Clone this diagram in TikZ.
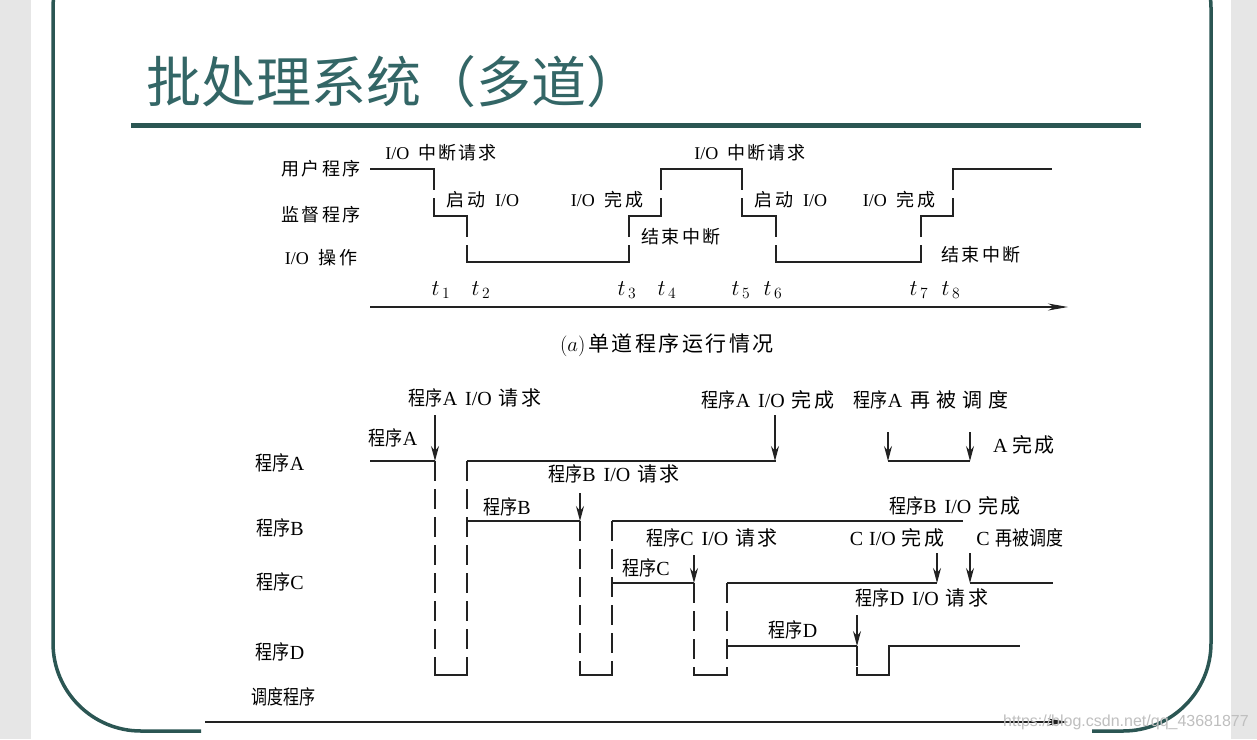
\documentclass[tikz,border=0pt]{standalone}
\usepackage{graphicx}
\usepackage{fontspec}
\setmainfont{Liberation Serif}
\newfontfamily\zh{Noto Sans CJK SC}
\newfontfamily\zhsp[LetterSpace=12]{Noto Sans CJK SC}
\newfontfamily\zhwide[LetterSpace=30]{Noto Sans CJK SC}
\newfontfamily\wmfont{Liberation Sans}
\usetikzlibrary{arrows.meta}
\definecolor{frameteal}{HTML}{2B5653}
\definecolor{titleteal}{HTML}{336666}
\definecolor{sidegray}{HTML}{E6E6E6}
\definecolor{inkline}{HTML}{222222}
\newcommand\sizeA{\fontsize{18}{20}\selectfont}
\newcommand\sizeB{\fontsize{20}{22}\selectfont}
\newcommand\zs[1]{{\zhsp #1}}
\newcommand\cx{\scalebox{0.85}[1]{\zh 程序}}
\newcommand\tm[1]{\scalebox{1.3}{$t_{\,#1}$}}
\begin{document}
\begin{tikzpicture}[x=1pt,y=-1pt,
  lblA/.style={inner sep=0pt, font=\sizeA, text=black},
  lblB/.style={inner sep=0pt, font=\sizeB, text=black},
  wave/.style={line width=1.2pt, draw=inkline},
  dsh/.style={line width=1.2pt, draw=inkline, dash pattern=on 20pt off 8pt},
  req/.style={line width=1.2pt, draw=inkline, -{Stealth[length=15pt,width=8pt,inset=5pt]}},
  timeaxis/.style={line width=1.2pt, draw=inkline, -{Stealth[length=20pt,width=7pt,inset=6pt]}},
]
\useasboundingbox (0,0) rectangle (1257,739);
\clip (0,0) rectangle (1257,739);
\fill[white] (0,0) rectangle (1257,739);
\fill[sidegray] (0,0) rectangle (31,739);
\fill[sidegray] (1231,0) rectangle (1257,739);
% slide frame
\draw[frameteal, line width=3.5pt, rounded corners=88pt] (201,731) -- (53,731) -- (53,-80) -- (1211,-80) -- (1211,731) -- (1092,731);
% title
\node[text=titleteal, inner sep=0pt, font=\zh\fontsize{55}{58}\selectfont] (title) at (394,82) {批处理系统（多道）};
\draw[frameteal, line width=5pt] (131,125) -- (1141,125);

% ---------------- (a) ----------------
\node[lblA] (userA) at (321,169) {\zs{用户程序}};
\node[lblA] (supA) at (321,215) {\zs{监督程序}};
\node[lblA] (ioA) at (321,258) {I/O\hspace{10pt}\zs{操作}};
\node[lblA] (irq1) at (441,153) {I/O\hspace{9pt}\zs{中断请求}};
\node[lblA] (irq2) at (750,153) {I/O\hspace{9pt}\zs{中断请求}};
\node[lblA] (start1) at (483,200) {\zs{启动}\hspace{10pt}I/O};
\node[lblA] (start2) at (791,200) {\zs{启动}\hspace{10pt}I/O};
\node[lblA] (done1) at (607,200) {I/O\hspace{10pt}\zs{完成}};
\node[lblA] (done2) at (899,200) {I/O\hspace{10pt}\zs{完成}};
\node[lblA] (end1) at (681,237) {\zs{结束中断}};
\node[lblA] (end2) at (981,255) {\zs{结束中断}};
\node[lblA] (t1) at (441,290) {\tm{1}};
\node[lblA] (t2) at (481,290) {\tm{2}};
\node[lblA] (t3) at (627,290) {\tm{3}};
\node[lblA] (t4) at (667,290) {\tm{4}};
\node[lblA] (t5) at (741,290) {\tm{5}};
\node[lblA] (t6) at (773,290) {\tm{6}};
\node[lblA] (t7) at (919,290) {\tm{7}};
\node[lblA] (t8) at (951,290) {\tm{8}};
\node[inner sep=0pt, font=\fontsize{21}{23}\selectfont] (capA) at (667,345) {$(a)$\hspace{3pt}\zs{单道程序运行情况}};

\draw[wave] (370,169) -- (434,169) -- (434,190);
\draw[wave] (434,198) -- (434,216) -- (467,216) -- (467,237);
\draw[wave] (467,245) -- (467,262) -- (629,262) -- (629,245);
\draw[wave] (629,237) -- (629,216) -- (661,216) -- (661,198);
\draw[wave] (661,190) -- (661,169) -- (742,169) -- (742,190);
\draw[wave] (742,198) -- (742,216) -- (776,216) -- (776,237);
\draw[wave] (776,245) -- (776,262) -- (921,262) -- (921,245);
\draw[wave] (921,237) -- (921,216) -- (953,216) -- (953,198);
\draw[wave] (953,190) -- (953,169) -- (1052,169);

\coordinate (axAs) at (370,307);
\coordinate (axAe) at (1068,307);
\draw[timeaxis] (axAs) -- (axAe);

% ---------------- (b) ----------------
\node[lblB] (rowA) at (280,463) {\cx A};
\node[lblB] (rowB) at (280,528) {\cx B};
\node[lblB] (rowC) at (280,582) {\cx C};
\node[lblB] (rowD) at (280,652) {\cx D};
\node[lblB] (rowS) at (283,697) {\scalebox{0.8}[1]{\zh 调度程序}};

\node[lblB] (reqA) at (475,398) {\cx A\hspace{8pt}I/O\hspace{7pt}\zs{请求}};
\node[lblB] (progA) at (393,438) {\cx A};
\node[lblB] (doneA) at (768,400) {\cx A\hspace{8pt}I/O\hspace{7pt}\zs{完成}};
\node[lblB] (reschA) at (931,400) {\cx A\hspace{8pt}{\zhwide 再被调度}};
\node[lblB] (finA) at (1024,445) {A\hspace{5pt}\zs{完成}};
\node[lblB] (reqB) at (614,474) {\cx B\hspace{8pt}I/O\hspace{7pt}\zs{请求}};
\node[lblB] (progB) at (507,507) {\cx B};
\node[lblB] (doneB) at (955,506) {\cx B\hspace{8pt}I/O\hspace{7pt}\zs{完成}};
\node[lblB] (reqC) at (712,538) {\cx C\hspace{8pt}I/O\hspace{7pt}\zs{请求}};
\node[lblB] (progC) at (646,568) {\cx C};
\node[lblB] (doneC) at (897,538) {C\hspace{6pt}I/O\hspace{6pt}\zs{完成}};
\node[lblB] (reschC) at (1020,538) {C\hspace{6pt}\scalebox{0.85}[1]{\zh 再被调度}};
\node[lblB] (reqD) at (922,598) {\cx D\hspace{8pt}I/O\hspace{7pt}\zs{请求}};
\node[lblB] (progD) at (793,630) {\cx D};

% program A
\draw[wave] (370,461) -- (435,461);
\draw[dsh] (435,461) -- (435,667);
\draw[wave] (435,667) -- (435,675) -- (467,675) -- (467,667);
\draw[dsh] (467,461) -- (467,667);
\draw[wave] (467,461) -- (776,461);
\draw[wave] (888,461) -- (970,461);
% program B
\draw[wave] (467,521) -- (580,521);
\draw[dsh] (580,521) -- (580,667);
\draw[wave] (580,667) -- (580,675) -- (612,675) -- (612,667);
\draw[dsh] (612,521) -- (612,667);
\draw[wave] (612,521) -- (963,521);
% program C
\draw[wave] (612,583) -- (694,583);
\draw[dsh] (694,583) -- (694,667);
\draw[wave] (694,667) -- (694,675) -- (727,675) -- (727,667);
\draw[dsh] (727,583) -- (727,667);
\draw[wave] (727,583) -- (937,583);
\draw[wave] (970,583) -- (1053,583);
% program D
\draw[wave] (727,646) -- (857,646);
\draw[dsh] (857,646) -- (857,667);
\draw[wave] (857,667) -- (857,675) -- (889,675) -- (889,646) -- (1020,646);

% event arrows
\coordinate (aqs) at (435,415); \coordinate (aqe) at (435,461);
\coordinate (bqs) at (580,493); \coordinate (bqe) at (580,521);
\coordinate (cqs) at (694,555); \coordinate (cqe) at (694,583);
\coordinate (ads) at (775,415); \coordinate (ade) at (775,461);
\coordinate (ars) at (888,432); \coordinate (are) at (888,461);
\coordinate (afs) at (970,432); \coordinate (afe) at (970,461);
\coordinate (cds) at (937,553); \coordinate (cde) at (937,583);
\coordinate (crs) at (970,553); \coordinate (cre) at (970,583);
\coordinate (dqs) at (857,615); \coordinate (dqe) at (857,646);
\draw[req] (aqs) -- (aqe);
\draw[req] (bqs) -- (bqe);
\draw[req] (cqs) -- (cqe);
\draw[req] (ads) -- (ade);
\draw[req] (ars) -- (are);
\draw[req] (afs) -- (afe);
\draw[req] (cds) -- (cde);
\draw[req] (crs) -- (cre);
\draw[req] (dqs) -- (dqe);

\coordinate (axBs) at (205,722);
\coordinate (axBe) at (1068,722);
\draw[timeaxis] (axBs) -- (axBe);

% watermark
\node[anchor=west, inner sep=0pt, text=black!25, font=\wmfont\fontsize{16}{18}\selectfont] (wm) at (1003,722) {https://blog.csdn.net/qq\_43681877};
\end{tikzpicture}
\end{document}
